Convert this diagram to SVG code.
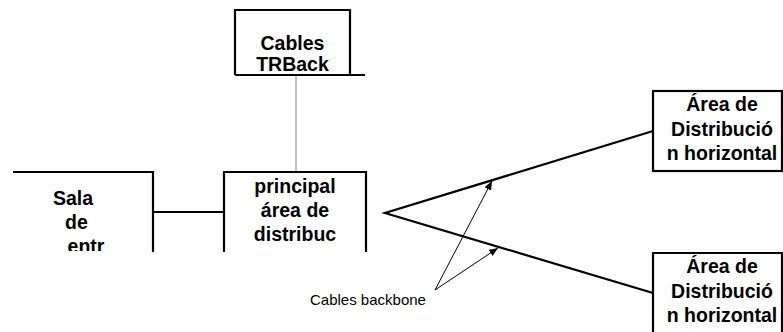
<svg xmlns="http://www.w3.org/2000/svg" width="783" height="332" viewBox="0 0 783 332">
<style>
.box{fill:none;stroke:#000;stroke-width:2.2}
.t{font-family:"Liberation Sans",Arial,sans-serif;font-weight:bold;font-size:19.5px;fill:#000;text-anchor:middle}
.lbl{font-family:"Liberation Sans",Arial,sans-serif;font-size:15px;fill:#000}
.thick{fill:none;stroke:#000;stroke-width:2.2}
.thin{fill:none;stroke:#000;stroke-width:1}
.gray{fill:none;stroke:#808080;stroke-width:1}
</style>
<defs>
<marker id="ah" viewBox="0 0 10 10" refX="10" refY="5" markerWidth="9" markerHeight="9" markerUnits="userSpaceOnUse" orient="auto">
<path d="M0,1 L10,5 L0,9 Z" fill="#000"/>
</marker>
<clipPath id="clipBottom"><rect x="0" y="0" width="783" height="251"/></clipPath>
</defs>
<rect width="783" height="332" fill="#fff"/>
<g id="connectors">
<line class="gray" x1="296" y1="75" x2="296" y2="172"/>
<line class="thick" x1="153" y1="212" x2="224" y2="212"/>
<polyline class="thick" points="653,131 385,213 653,293"/>
<line class="thin" x1="435" y1="290" x2="492" y2="181" marker-end="url(#ah)"/>
<line class="thin" x1="435" y1="290" x2="498" y2="248" marker-end="url(#ah)"/>
<text class="lbl" x="310" y="305">Cables backbone</text>
</g>
<g id="cables-trback">
<path class="box" d="M235,75 L235,10 L350,10 L350,75 M235,75 L365,75"/>
<text class="t" x="292.5" y="50">Cables</text>
<text class="t" x="292.5" y="71">TRBack</text>
</g>
<g id="sala-entrada">
<path class="box" d="M13,172 L153,172 L153,252"/>
<g clip-path="url(#clipBottom)">
<text class="t" x="73" y="205">Sala</text>
<text class="t" x="76.5" y="229">de</text>
<text class="t" x="86" y="253">entr</text>
</g>
</g>
<g id="principal">
<path class="box" d="M224,252 L224,172 L366,172 L366,252"/>
<g clip-path="url(#clipBottom)">
<text class="t" x="295" y="193">principal</text>
<text class="t" x="295" y="217">área de</text>
<text class="t" x="295" y="241">distribuc</text>
</g>
</g>
<g id="area-horizontal-1">
<rect class="box" x="653" y="91" width="129" height="80"/>
<text class="t" x="722" y="111">Área de</text>
<text class="t" x="722" y="136">Distribució</text>
<text class="t" x="722" y="160">n horizontal</text>
</g>
<g id="area-horizontal-2">
<path class="box" d="M653,333 L653,253 L782,253 L782,333"/>
<text class="t" x="722" y="273">Área de</text>
<text class="t" x="722" y="298">Distribució</text>
<text class="t" x="722" y="322">n horizontal</text>
</g>
</svg>
